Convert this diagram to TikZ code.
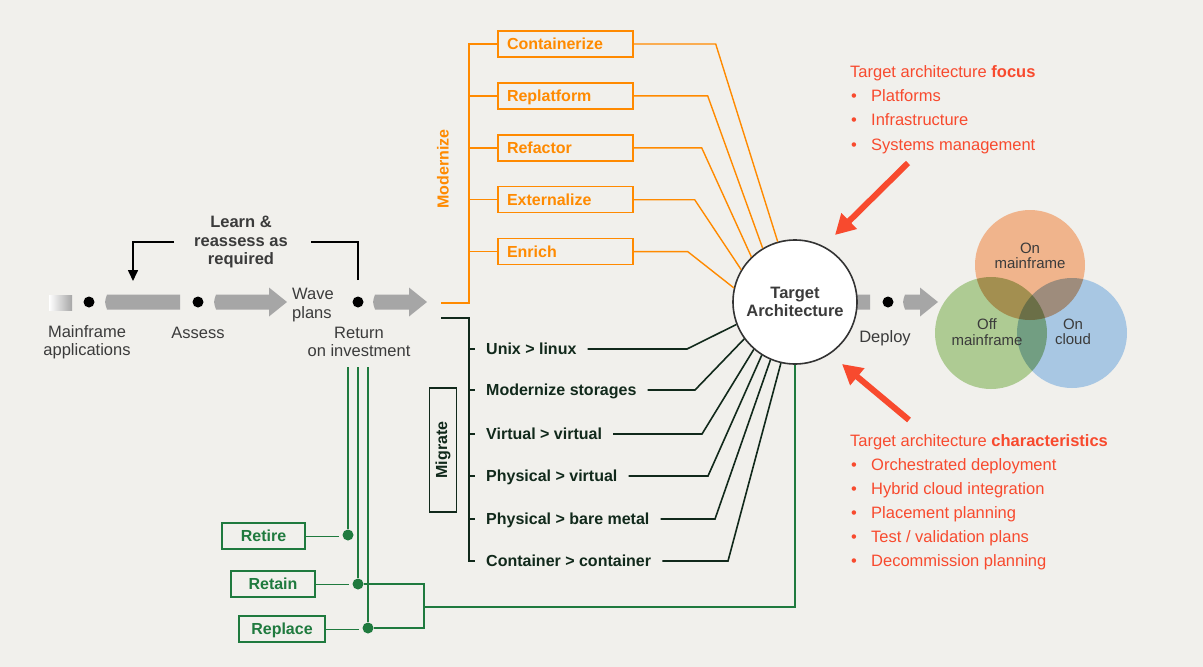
\documentclass[tikz,border=0pt]{standalone}
\usepackage{fontspec}
\setmainfont{Liberation Sans}
\usetikzlibrary{positioning,arrows.meta,calc}
\definecolor{pagebg}{HTML}{F1F0EC}
\definecolor{shaftgray}{HTML}{A6A6A6}
\definecolor{modorange}{HTML}{FF8A00}
\definecolor{migdark}{HTML}{11291B}
\definecolor{keepgreen}{HTML}{1F7A3E}
\definecolor{focusred}{HTML}{F84A2E}
\definecolor{labelgray}{HTML}{3B3B3B}
\definecolor{vennorange}{HTML}{F0B48C}
\definecolor{venngreen}{HTML}{AECB93}
\definecolor{vennblue}{HTML}{A8C7E3}
\newcommand\bodysize{\fontsize{16.5}{18.5}\selectfont}
\newcommand\boxsize{\fontsize{16}{18}\selectfont}
\tikzset{
  stepdot/.style={circle, fill=black, inner sep=0pt, minimum size=11pt},
  keepdot/.style={circle, fill=keepgreen, inner sep=0pt, minimum size=11pt},
  shaft/.style={fill=shaftgray, draw=none},
  steplab/.style={font=\bodysize, text=labelgray, align=center, inner sep=0pt},
  learnlab/.style={font=\bodysize\bfseries, text=labelgray, align=center, inner sep=0pt},
  loopline/.style={draw=black, line width=1.6pt},
  modbox/.style={draw=modorange, line width=1.4pt, text=modorange, font=\boxsize\bfseries,
    minimum height=26pt, text width=117pt, inner xsep=9pt, inner ysep=0pt,
    text height=13pt, text depth=2pt, align=left},
  modline/.style={draw=modorange, line width=1.4pt},
  modlab/.style={text=modorange, font=\boxsize\bfseries, rotate=90, inner sep=0pt},
  miglab/.style={text=migdark, font=\boxsize\bfseries, inner sep=0pt, anchor=west,
    text height=13pt, text depth=2pt},
  migline/.style={draw=migdark, line width=1.6pt},
  migbox/.style={draw=migdark, line width=1.5pt, text=migdark, font=\boxsize\bfseries,
    rotate=90, minimum width=124pt, minimum height=27pt, inner sep=0pt},
  keepbox/.style={draw=keepgreen, line width=1.4pt, text=keepgreen, font=\boxsize\bfseries,
    minimum height=26pt, inner sep=0pt, text height=13pt, text depth=2pt},
  keepline/.style={draw=keepgreen, line width=1.8pt},
  keepthin/.style={draw=keepgreen, line width=0.8pt},
  tacircle/.style={circle, draw=black!80, line width=1.6pt, fill=white, minimum size=124pt,
    inner sep=0pt, align=center, font=\bodysize\bfseries, text=labelgray},
  focusarrow/.style={draw=focusred, line width=6pt, -{Triangle[length=20pt, width=21pt]}},
  redtitle/.style={text=focusred, font=\bodysize, anchor=west, inner sep=0pt,
    text height=13pt, text depth=2pt},
  reditem/.style={redtitle},
  vennlab/.style={text=labelgray, font=\fontsize{15}{15.5}\selectfont, align=center, inner sep=0pt},
}
\tikzset{
  pics/plainshaft/.style={code={
    \fill[shaft] (0,-7.5) .. controls (-2.5,0) .. (0,7.5) -- (#1,7.5) -- (#1,-7.5) -- cycle;}},
  pics/headshaft/.style={code={
    \fill[shaft] (0,-7.5) .. controls (-2.5,0) .. (0,7.5) -- ({#1-18},7.5) -- ({#1-18},14.5)
      -- (#1,0) -- ({#1-18},-14.5) -- ({#1-18},-7.5) -- cycle;}},
}
\begin{document}
\begin{tikzpicture}[x=1pt, y=-1pt]
\useasboundingbox[fill=pagebg] (0,0) rectangle (1203,667);
% main flow
\fill[left color=white, right color=shaftgray] (49,295) rectangle (72,310);
\pic at (107,302) {plainshaft=73};
\pic at (216,302) {headshaft=71};
\pic at (375,302) {headshaft=52};
\pic at (845,302) {plainshaft=25};
\pic at (905,302) {headshaft=33};
\node[stepdot] (mf) at (89,302) {};
\node[stepdot] (as) at (198,302) {};
\node[stepdot] (roi) at (358,302) {};
\node[stepdot] (dp) at (888,302) {};
\node[steplab] (mflab) at (87,342) {Mainframe\\applications};
\node[steplab] (aslab) at (198,333) {Assess};
\node[steplab, anchor=west, align=left] (wave) at (292,305) {Wave\\plans};
\node[steplab] (roilab) at (359,342) {Return\\on investment};
\node[steplab] (deploy) at (885,338) {Deploy};
% learn loop
\node[learnlab] (learn) at (241,242) {Learn \&\\reassess as\\required};
\draw[loopline] ($(roi)+(0,-22)$) |- ($(learn.east)+(23,0)$);
\draw[loopline, -{Triangle[length=11pt, width=10pt]}] ($(learn.west)+(-20,0)$) -| ($(mf)+(44,-21)$);
% target
\node[tacircle] (ta) at (795,302) {Target\\Architecture};
% modernize
\node[modlab] (modern) at (443,169) {Modernize};
\node[modbox] (cont) at (565.5,44) {Containerize};
\node[modbox, below=24.5pt of cont] (repl) {Replatform};
\node[modbox, below=24.5pt of repl] (refa) {Refactor};
\node[modbox, below=24.5pt of refa] (exte) {Externalize};
\node[modbox, below=24.5pt of exte] (enri) {Enrich};
\coordinate (modin) at (441,303);
\coordinate (modspine) at (469,303);
\draw[modline] (modin) -- (modspine) |- (cont.west);
\foreach \b in {repl,refa,exte,enri}
  \draw[modline] (modspine |- \b.west) -- (\b.west);
\foreach \b/\d/\a in {cont/82/106, repl/74/121, refa/68/134, exte/61/149, enri/54/167}
  \draw[modline] (\b.east) -- ++(\d,0) -- (ta.\a);
% migrate
\node[migbox] (migrate) at (443,450) {Migrate};
\node[miglab] (unix) at (486,349) {Unix > linux};
\node[miglab] (stor) at (486,390) {Modernize storages};
\node[miglab] (virt) at (486,434) {Virtual > virtual};
\node[miglab] (phvi) at (486,476) {Physical > virtual};
\node[miglab] (bare) at (486,519) {Physical > bare metal};
\node[miglab] (ccon) at (486,561) {Container > container};
\coordinate (migin) at (441,318);
\coordinate (migspine) at (469,318);
\draw[migline] (migin) -- (migspine) |- ($(ccon.west)+(-11,0)$);
\foreach \m in {unix,stor,virt,phvi,bare}
  \draw[migline] (migspine |- \m.west) -- ++(6,0);
\foreach \m/\k/\a in {unix/687/201, stor/695/216, virt/702/229, phvi/708/238, bare/715/247, ccon/728/257}
  \draw[migline] ($(\m.east)+(11,0)$) -- (\k,0 |- \m.east) -- (ta.\a);
% retire / retain / replace
\node[keepdot] (retdot) at (348,535) {};
\node[keepdot] (rtndot) at (358,584) {};
\node[keepdot] (rpldot) at (368,628) {};
\node[keepbox, minimum width=83pt] (retire) at (263.5,536) {Retire};
\node[keepbox, minimum width=84pt] (retain) at (273,584) {Retain};
\node[keepbox, minimum width=86pt] (replace) at (282,629) {Replace};
\draw[keepline] ($(roi)+(-10,65)$) -- (retdot);
\draw[keepline] ($(roi)+(0,65)$) -- (rtndot);
\draw[keepline] ($(roi)+(10,65)$) -- (rpldot);
\draw[keepthin] (retire.east) -- ++(33,0);
\draw[keepthin] (retain.east) -- ++(33,0);
\draw[keepthin] (replace.east) -- ++(33,0);
\coordinate (keepjoin) at (424,607);
\draw[keepline] (rtndot) -- (rtndot -| keepjoin) -- (rpldot -| keepjoin) -- (rpldot);
\draw[keepline] (keepjoin) -| (ta.south);
% focus and characteristics
\coordinate (focustail) at (908,163);
\coordinate (focustip) at (835,235);
\draw[focusarrow] (focustail) -- (focustip);
\coordinate (chartail) at (909,420);
\coordinate (chartip) at (842,364);
\draw[focusarrow] (chartail) -- (chartip);
\node[redtitle] (focus) at (850,72) {Target architecture \textbf{focus}};
\foreach \t [count=\i] in {Platforms, Infrastructure, Systems management}
  \node[reditem] (focus-\i) at (850,{71+24.5*\i}) {\makebox[21pt][l]{\hspace{1pt}\textbullet}\t};
\node[redtitle] (chars) at (850,441) {Target architecture \textbf{characteristics}};
\foreach \t [count=\i] in {Orchestrated deployment, Hybrid cloud integration, Placement planning,
    Test / validation plans, Decommission planning}
  \node[reditem] (chars-\i) at (850,{441+24*\i}) {\makebox[21pt][l]{\hspace{1pt}\textbullet}\t};
% venn
\begin{scope}[blend group=multiply]
\fill[vennorange] (1030,265) circle (55pt);
\fill[venngreen] (991,333) circle (56pt);
\fill[vennblue] (1072,333) circle (55pt);
\end{scope}
\node[vennlab] (onmf) at (1030,256) {On\\mainframe};
\node[vennlab] (offmf) at (987,332) {Off\\mainframe};
\node[vennlab] (oncloud) at (1073,332) {On\\cloud};
\end{tikzpicture}
\end{document}
